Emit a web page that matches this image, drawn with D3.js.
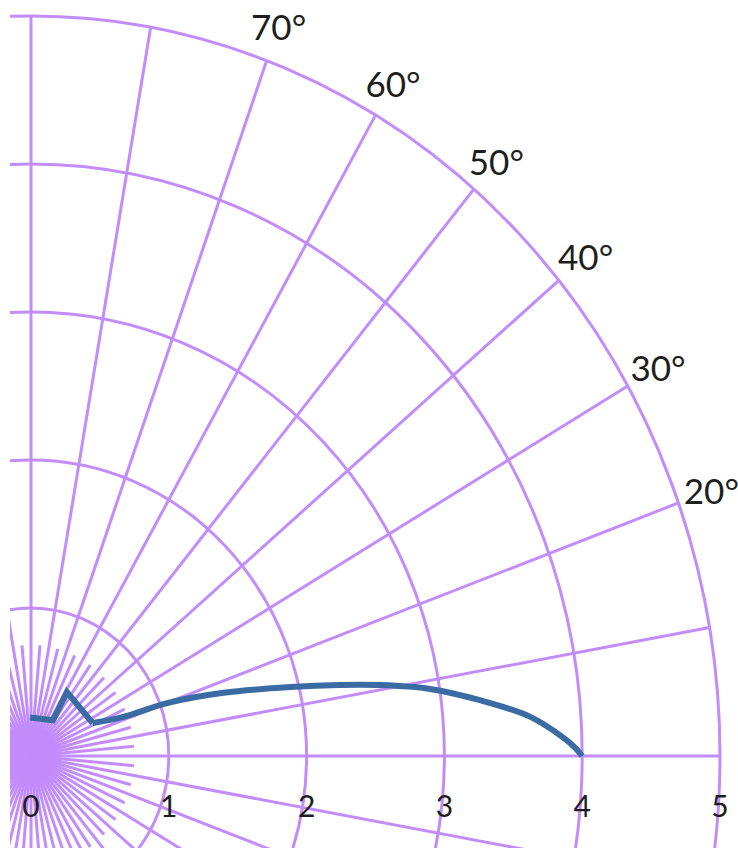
<!DOCTYPE html>
<html>
<head>
<meta charset="utf-8">
<script src="https://cdn.jsdelivr.net/npm/d3@7"></script>
<style>
  html, body { margin: 0; padding: 0; background: #ffffff; }
  svg { display: block; }
</style>
</head>
<body>
<script>
// ---- data ----
const radialTicks = [0, 1, 2, 3, 4, 5];
const ringValues = [1, 2, 3, 4, 5];
const majorSpokeAngles = d3.range(0, 360, 10);
const minorSpokeAngles = d3.range(5, 360, 10);
const angleLabels = [20, 30, 40, 50, 60, 70];
// curve as (r, theta in degrees)
const zigR     = [0.26, 0.29, 0.505, 0.50];
const zigTheta = [91.5, 56.5, 59.0, 26.5];
const curveR     = [0.50, 0.72, 1.05, 1.46, 1.94, 2.29, 2.58, 2.93, 3.28, 3.63, 3.86, 3.95, 4.0];
const curveTheta = [26.5, 21.5, 19.9, 17.0, 13.9, 12.1, 10.7, 8.9, 6.6, 4.2, 1.9, 0.8, 0.0];

// ---- layout ----
const W = 738, H = 848;
const svg = d3.select("body").append("svg").attr("width", W).attr("height", H);

svg.append("defs").append("clipPath").attr("id", "plotclip")
  .append("rect").attr("x", 10).attr("y", 0).attr("width", W - 10).attr("height", H);

const x = d3.scaleLinear().domain([0, 5]).range([31, 720]);
const y = d3.scaleLinear().domain([0, 5]).range([756, 16]);
const rad = d => d * Math.PI / 180;
const px = (r, a) => x(r * Math.cos(rad(a)));
const py = (r, a) => y(r * Math.sin(rad(a)));

const gridColor = "#c28cfb";
const grid = svg.append("g").attr("clip-path", "url(#plotclip)")
  .attr("fill", "none").attr("stroke", gridColor).attr("stroke-width", 3);

// rings
grid.selectAll("ellipse").data(ringValues).join("ellipse")
  .attr("cx", x(0)).attr("cy", y(0))
  .attr("rx", d => x(d) - x(0))
  .attr("ry", d => y(0) - y(d));

// spokes
grid.selectAll("line.major").data(majorSpokeAngles).join("line").attr("class", "major")
  .attr("x1", x(0)).attr("y1", y(0))
  .attr("x2", a => px(5, a)).attr("y2", a => py(5, a));
grid.selectAll("line.minor").data(minorSpokeAngles).join("line").attr("class", "minor")
  .attr("x1", x(0)).attr("y1", y(0))
  .attr("x2", a => px(0.75, a)).attr("y2", a => py(0.75, a));

// curve
const line = d3.line().x(d => px(d[0], d[1])).y(d => py(d[0], d[1]));
const zig = zigR.map((r, i) => [r, zigTheta[i]]);
const smooth = curveR.map((r, i) => [r, curveTheta[i]]);
const blue = "#3a6ba3";
svg.append("path").datum(zig)
  .attr("d", line.curve(d3.curveLinear))
  .attr("fill", "none").attr("stroke", blue).attr("stroke-width", 6)
  .attr("stroke-linejoin", "miter").attr("stroke-linecap", "butt");
svg.append("path").datum(smooth)
  .attr("d", line.curve(d3.curveCatmullRom.alpha(0.5)))
  .attr("fill", "none").attr("stroke", blue).attr("stroke-width", 6)
  .attr("stroke-linecap", "butt");

// radial labels
const font = "Lato, 'Open Sans', sans-serif";
svg.append("g").selectAll("text").data(radialTicks).join("text")
  .attr("x", d => x(d)).attr("y", y(0) + 61)
  .attr("text-anchor", "middle")
  .attr("font-family", font).attr("font-size", 30).attr("fill", "#1e1e1e")
  .text(d => d);

// angle labels
const labFS = 35;
svg.append("g").selectAll("text").data(angleLabels).join("text")
  .attr("x", a => px(5, a) + 35 * Math.cos(rad(a)))
  .attr("y", a => py(5, a) - 35 * Math.sin(rad(a)) + 0.36 * labFS)
  .attr("text-anchor", "middle")
  .attr("font-family", font).attr("font-size", labFS).attr("fill", "#1e1e1e")
  .text(a => a + "°");
</script>
</body>
</html>
